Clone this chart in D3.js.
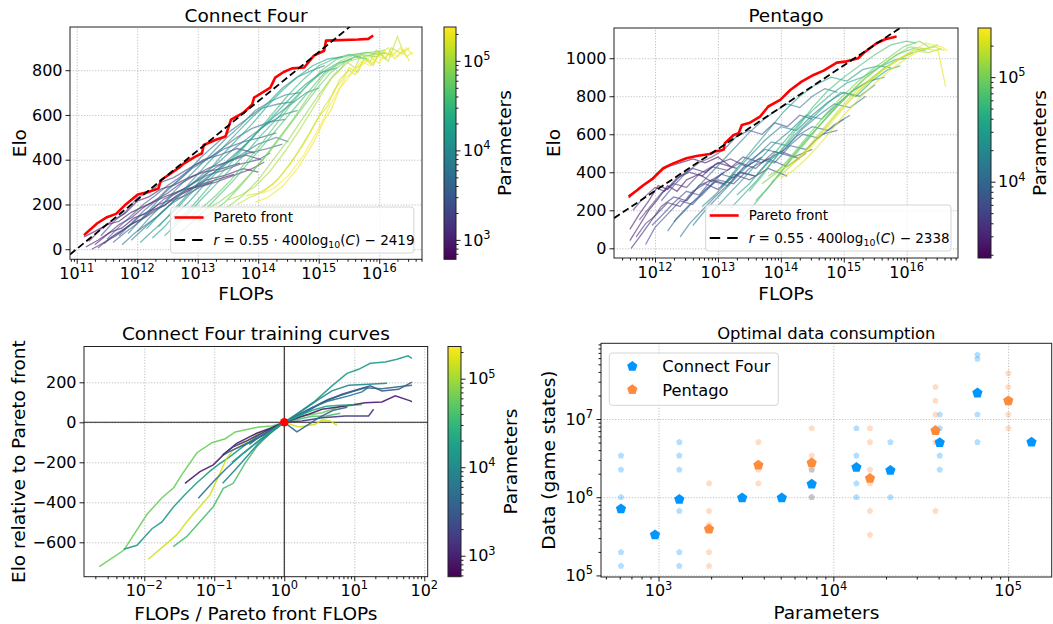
<!DOCTYPE html>
<html>
<head>
<meta charset="utf-8">
<script src="https://cdn.jsdelivr.net/npm/d3@7"></script>
<style>
body { margin: 0; background: #fff; }
svg { font-family: "DejaVu Sans", sans-serif; }
.grid line { stroke: #b0b0b0; stroke-width: 0.8; stroke-dasharray: 1.2,1.6; }
.grid path { display: none; }
</style>
</head>
<body>
<svg id="chart" width="1053" height="624"></svg>
<script>
/* ---------- Connect Four: Elo vs training FLOPs (x values are log10 FLOPs) ---------- */
var c4Params = [650, 720, 850, 1000, 1200, 1500, 1800, 2200, 2800, 3400, 4200, 5200, 6300, 7600, 9000,
    11000, 13500, 16500, 20000, 25000, 31000, 38000, 47000, 58000, 72000, 88000, 110000, 135000, 165000, 200000, 230000];
var c4Runs = [
    [[11.12,55],[11.3,80],[11.5,110],[11.7,125],[11.9,165],[12.1,190],[12.3,215],[12.5,240],[12.75,265],[13.0,280],[13.25,300]],
    [[11.15,10],[11.35,40],[11.55,75],[11.75,95],[11.95,140],[12.15,160],[12.35,200],[12.55,220],[12.8,255],[13.05,290],[13.3,310],[13.6,335]],
    [[11.2,35],[11.4,90],[11.6,130],[11.8,160],[12.0,215],[12.2,235],[12.4,270],[12.6,285],[12.85,320],[13.1,345],[13.4,360],[13.7,385]],
    [[11.25,0],[11.45,30],[11.65,60],[11.85,105],[12.05,130],[12.25,175],[12.45,195],[12.65,240],[12.9,275],[13.15,310],[13.45,330],[13.75,360],[14.0,345]],
    [[11.3,20],[11.5,65],[11.7,110],[11.9,140],[12.1,185],[12.3,220],[12.5,250],[12.7,290],[12.95,330],[13.2,365],[13.5,390],[13.8,420],[14.05,400]],
    [[11.35,5],[11.55,50],[11.75,80],[11.95,120],[12.15,145],[12.35,180],[12.55,215],[12.8,240],[13.05,280],[13.3,300],[13.6,330],[13.9,360],[14.1,390]],
    [[11.4,60],[11.6,120],[11.8,165],[12.0,230],[12.2,255],[12.4,300],[12.6,320],[12.85,360],[13.1,400],[13.35,420],[13.65,450],[13.95,430]],
    [[11.45,25],[11.65,70],[11.85,100],[12.05,150],[12.25,180],[12.45,225],[12.65,250],[12.9,290],[13.15,330],[13.4,350],[13.7,380],[14.0,400],[14.2,430]],
    [[11.5,45],[11.7,100],[11.9,150],[12.1,200],[12.3,240],[12.5,285],[12.7,320],[12.95,375],[13.2,410],[13.45,450],[13.75,480],[14.05,500],[14.3,520]],
    [[11.6,30],[11.8,75],[12.0,115],[12.2,160],[12.4,195],[12.6,245],[12.8,275],[13.05,320],[13.3,365],[13.55,400],[13.85,430],[14.15,450],[14.4,470]],
    [[11.7,60],[11.9,115],[12.1,170],[12.3,215],[12.5,270],[12.7,310],[12.9,360],[13.15,400],[13.4,450],[13.65,500],[13.9,540],[14.2,570],[14.45,580]],
    [[11.75,20],[11.95,70],[12.15,110],[12.35,150],[12.55,200],[12.75,235],[12.95,280],[13.2,330],[13.45,380],[13.7,420],[14.0,470],[14.3,500],[14.5,480]],
    [[11.85,70],[12.05,130],[12.25,190],[12.45,250],[12.65,300],[12.85,350],[13.05,410],[13.3,470],[13.55,530],[13.8,580],[14.05,630],[14.35,650],[14.6,660]],
    [[11.9,40],[12.1,90],[12.3,140],[12.5,190],[12.7,240],[12.9,290],[13.1,340],[13.35,390],[13.6,450],[13.85,500],[14.1,550],[14.4,600],[14.65,620]],
    [[12.0,80],[12.2,140],[12.4,195],[12.6,255],[12.8,310],[13.0,365],[13.2,420],[13.45,490],[13.7,550],[13.95,620],[14.2,660],[14.45,690],[14.7,700]],
    [[12.05,30],[12.25,80],[12.45,130],[12.65,180],[12.85,240],[13.05,290],[13.3,350],[13.55,410],[13.8,470],[14.05,540],[14.3,600],[14.55,650],[14.8,700],[15.0,720]],
    [[12.15,90],[12.35,150],[12.55,200],[12.75,260],[12.95,320],[13.15,380],[13.4,450],[13.65,520],[13.9,590],[14.15,650],[14.4,720],[14.65,770],[14.9,800],[15.1,820]],
    [[12.25,50],[12.45,100],[12.65,160],[12.85,210],[13.05,270],[13.3,340],[13.55,400],[13.8,470],[14.05,540],[14.3,610],[14.55,680],[14.8,740],[15.05,790],[15.3,810]],
    [[12.35,100],[12.55,160],[12.75,220],[12.95,280],[13.15,340],[13.4,420],[13.65,490],[13.9,560],[14.15,640],[14.4,710],[14.65,770],[14.9,820],[15.15,850],[15.4,860]],
    [[12.45,60],[12.65,110],[12.85,160],[13.05,220],[13.3,290],[13.55,360],[13.8,430],[14.05,510],[14.3,580],[14.55,660],[14.8,730],[15.05,790],[15.3,830],[15.55,850]],
    [[12.6,110],[12.8,160],[13.0,220],[13.25,300],[13.5,370],[13.75,450],[14.0,530],[14.25,610],[14.5,690],[14.75,760],[15.0,820],[15.25,850],[15.5,870],[15.7,860]],
    [[12.7,70],[12.9,120],[13.1,170],[13.35,240],[13.6,310],[13.85,390],[14.1,470],[14.35,550],[14.6,630],[14.85,710],[15.1,790],[15.35,830],[15.6,860],[15.8,850]],
    [[12.85,140],[13.05,180],[13.3,240],[13.55,310],[13.8,390],[14.05,470],[14.3,560],[14.55,650],[14.8,730],[15.05,800],[15.3,850],[15.55,870],[15.8,880],[16.0,870]],
    [[13.0,120],[13.2,160],[13.45,210],[13.7,280],[13.95,360],[14.2,440],[14.45,530],[14.7,620],[14.95,710],[15.2,790],[15.45,840],[15.7,870],[15.95,860],[16.1,880]],
    [[13.15,180],[13.35,210],[13.6,260],[13.85,330],[14.1,410],[14.35,500],[14.6,590],[14.85,690],[15.1,780],[15.35,840],[15.6,870],[15.85,880],[16.1,890]],
    [[13.3,150],[13.5,190],[13.75,240],[14.0,310],[14.25,400],[14.5,490],[14.75,590],[15.0,690],[15.25,780],[15.5,840],[15.75,860],[16.0,880],[16.2,870]],
    [[13.5,220],[13.7,240],[13.95,280],[14.2,350],[14.45,440],[14.7,540],[14.95,650],[15.2,760],[15.35,800],[15.45,840],[15.6,810],[15.7,870],[15.85,840],[15.95,890],[16.1,850],[16.2,900],[16.4,870]],
    [[13.65,200],[13.85,230],[14.1,260],[14.35,320],[14.6,410],[14.85,520],[15.1,640],[15.25,700],[15.35,760],[15.5,800],[15.6,780],[15.75,850],[15.9,820],[16.0,880],[16.15,840],[16.3,950],[16.4,880],[16.5,900]],
    [[13.8,240],[14.0,250],[14.25,290],[14.5,370],[14.75,470],[15.0,590],[15.15,640],[15.25,710],[15.4,760],[15.5,810],[15.65,790],[15.75,850],[15.9,830],[16.0,870],[16.15,900],[16.25,850],[16.4,890],[16.5,840]],
    [[13.95,210],[14.15,230],[14.4,280],[14.65,360],[14.9,470],[15.1,580],[15.2,620],[15.35,720],[15.5,770],[15.6,810],[15.75,830],[15.85,860],[16.0,830],[16.1,880],[16.2,860],[16.35,900],[16.45,860],[16.55,880]],
    [[14.05,250],[14.25,270],[14.5,330],[14.75,420],[15.0,540],[15.2,650],[15.3,700],[15.45,770],[15.6,800],[15.7,840],[15.85,820],[15.95,870],[16.05,850],[16.2,880],[16.3,860],[16.45,900],[16.55,870]]
];
var c4FrontFlops = [11.12,11.34,11.5,11.65,11.79,12.01,12.18,12.35,12.39,12.71,12.77,12.96,13.07,13.1,13.3,13.46,13.55,13.75,13.9,13.93,14.2,14.28,14.42,14.56,14.76,14.92,15.09,15.12,15.65,15.82,15.9];
var c4FrontElo   = [63,116,143,158,195,245,256,271,308,368,383,414,429,466,489,504,579,609,647,677,722,767,792,808,812,865,887,932,937,940,955];
var c4FitSlope = 0.55 * 400, c4FitIntercept = -2419;

/* ---------- Pentago ---------- */
var pgParams = [2000, 2300, 2600, 3000, 3400, 3900, 4500, 5200, 6000, 7000, 8200, 9500, 11000, 13000, 15500,
    18500, 22000, 27000, 33000, 40000, 50000, 62000, 78000, 95000, 120000, 150000, 190000, 240000, 280000];
var pgRuns = [
    [[11.58,265],[11.75,320],[11.9,350],[12.05,400],[12.2,430],[12.4,450],[12.6,470],[12.8,450],[13.0,480],[13.2,430]],
    [[11.6,40],[11.75,120],[11.9,200],[12.05,260],[12.2,330],[12.35,300],[12.5,360],[12.7,390],[12.9,350],[13.1,400]],
    [[11.6,100],[11.75,180],[11.9,250],[12.05,330],[12.2,310],[12.4,380],[12.6,420],[12.8,400],[13.0,450],[13.3,420]],
    [[11.62,0],[11.8,80],[11.95,150],[12.1,220],[12.3,270],[12.5,250],[12.7,330],[12.9,360],[13.1,340],[13.35,400],[13.6,380]],
    [[11.65,200],[11.8,260],[12.0,320],[12.15,300],[12.35,370],[12.55,400],[12.75,380],[12.95,440],[13.2,470],[13.45,430],[13.7,480]],
    [[11.7,60],[11.85,130],[12.0,170],[12.2,240],[12.4,220],[12.6,300],[12.8,340],[13.0,310],[13.25,390],[13.5,360],[13.8,420],[14.1,380]],
    [[11.75,150],[11.95,230],[12.1,290],[12.3,340],[12.5,320],[12.7,390],[12.9,430],[13.15,410],[13.4,480],[13.7,450],[14.0,510],[14.3,470]],
    [[11.85,20],[12.0,110],[12.2,180],[12.4,250],[12.6,230],[12.8,310],[13.0,360],[13.25,340],[13.5,420],[13.8,470],[14.1,430],[14.4,500]],
    [[11.95,120],[12.1,170],[12.3,240],[12.5,300],[12.7,280],[12.9,360],[13.1,400],[13.35,450],[13.6,420],[13.9,510],[14.2,480],[14.5,520]],
    [[12.1,250],[12.3,330],[12.5,400],[12.7,450],[12.9,480],[13.1,520],[13.3,590],[13.5,620],[13.7,600],[13.9,660],[14.1,640],[14.3,700],[14.5,680]],
    [[12.2,90],[12.35,160],[12.55,230],[12.75,280],[12.95,350],[13.15,330],[13.4,420],[13.65,470],[13.9,450],[14.15,540],[14.4,520],[14.65,600],[14.9,620]],
    [[12.3,140],[12.45,190],[12.65,260],[12.85,320],[13.05,390],[13.25,370],[13.5,460],[13.75,520],[14.0,500],[14.25,590],[14.5,640],[14.75,620],[15.0,680]],
    [[12.4,60],[12.55,130],[12.75,200],[12.95,270],[13.15,330],[13.35,400],[13.6,380],[13.85,470],[14.1,530],[14.35,600],[14.6,580],[14.85,650],[15.1,700]],
    [[12.5,250],[12.7,330],[12.9,400],[13.1,470],[13.3,540],[13.5,610],[13.7,670],[13.9,720],[14.1,760],[14.3,740],[14.5,800],[14.7,840],[14.9,820]],
    [[12.6,120],[12.8,200],[13.0,270],[13.2,340],[13.4,410],[13.6,480],[13.85,560],[14.1,540],[14.35,630],[14.6,700],[14.85,760],[15.1,740],[15.35,800]],
    [[12.75,220],[12.95,280],[13.15,350],[13.35,430],[13.55,500],[13.75,570],[14.0,640],[14.25,620],[14.5,700],[14.75,770],[15.0,820],[15.25,800],[15.5,860]],
    [[12.9,190],[13.1,260],[13.3,330],[13.5,400],[13.7,480],[13.9,550],[14.15,620],[14.4,700],[14.65,680],[14.9,760],[15.15,830],[15.4,880],[15.65,900]],
    [[13.05,320],[13.25,400],[13.45,480],[13.65,560],[13.85,640],[14.05,720],[14.3,800],[14.55,860],[14.8,900],[15.05,880],[15.3,940],[15.55,960],[15.75,950]],
    [[13.2,210],[13.4,280],[13.6,350],[13.8,430],[14.0,510],[14.2,590],[14.45,670],[14.7,750],[14.95,820],[15.2,800],[15.45,880],[15.7,940],[15.9,960]],
    [[13.3,280],[13.5,340],[13.7,420],[13.9,500],[14.1,580],[14.3,660],[14.55,740],[14.8,810],[15.05,870],[15.3,900],[15.55,950],[15.8,990],[16.0,1000]],
    [[13.4,160],[13.6,240],[13.8,320],[14.0,400],[14.2,490],[14.4,570],[14.65,660],[14.9,750],[15.15,830],[15.4,880],[15.65,950],[15.9,1000],[16.1,1030]],
    [[13.5,300],[13.7,380],[13.9,470],[14.1,560],[14.3,650],[14.5,740],[14.75,830],[15.0,900],[15.25,960],[15.5,1020],[15.75,1070],[16.0,1090],[16.15,1080]],
    [[13.6,250],[13.8,320],[14.0,400],[14.2,480],[14.4,560],[14.6,640],[14.85,730],[15.1,820],[15.35,900],[15.6,960],[15.85,1020],[16.1,1050],[16.3,1040]],
    [[13.7,340],[13.9,390],[14.1,460],[14.3,540],[14.5,620],[14.7,700],[14.95,790],[15.2,870],[15.45,940],[15.7,1000],[15.95,1060],[16.2,1090],[16.35,1060]],
    [[13.8,380],[14.0,420],[14.2,490],[14.4,560],[14.6,640],[14.8,720],[15.05,800],[15.3,880],[15.55,950],[15.8,1010],[16.05,1060],[16.3,1050],[16.5,1070]],
    [[13.85,350],[14.05,400],[14.25,460],[14.45,530],[14.65,610],[14.85,690],[15.1,780],[15.35,860],[15.6,930],[15.85,990],[16.1,1040],[16.35,1030],[16.55,1050]],
    [[13.95,400],[14.15,440],[14.35,500],[14.55,580],[14.75,660],[14.95,740],[15.2,830],[15.45,900],[15.7,960],[15.95,1010],[16.2,1040],[16.45,1060],[16.6,1040]],
    [[14.0,370],[14.2,410],[14.4,470],[14.6,540],[14.8,620],[15.0,700],[15.25,790],[15.5,870],[15.75,940],[16.0,1000],[16.25,1050],[16.5,1040],[16.62,850]],
    [[14.05,420],[14.25,460],[14.45,520],[14.65,600],[14.85,680],[15.05,760],[15.3,850],[15.55,920],[15.8,980],[16.05,1030],[16.3,1080],[16.55,1060],[16.65,1040]]
];
var pgFrontFlops = [11.58,11.71,11.82,11.97,12.13,12.29,12.5,12.66,12.87,12.95,13.09,13.11,13.25,13.33,13.38,13.51,13.67,13.8,13.99,14.15,14.33,14.52,14.68,14.89,15.02,15.23,15.31,15.52,15.66,15.84];
var pgFrontElo   = [272,304,333,368,421,447,474,486,496,509,518,553,596,605,649,661,693,746,781,833,877,912,935,977,982,1000,1026,1079,1100,1114];
var pgFitSlope = 0.55 * 400, pgFitIntercept = -2338;

/* ---------- Connect Four training curves relative to the Pareto point (x = log10 ratio) ---------- */
var tcParams = [60000, 15000, 150000, 40000, 900, 5000, 9000, 3000, 1500, 6000, 4000, 20000];
var tcCurves = [
    [[-2.643,-722],[-2.294,-640],[-1.96,-460],[-1.747,-377],[-1.58,-327],[-1.461,-260],[-1.247,-152],[-1.033,-102],[-0.843,-82],[-0.7,-48],[-0.366,-23],[-0.176,-18],[0,0],[0.253,32],[0.539,48],[0.824,82],[1.11,88]],
    [[-2.294,-635],[-2.104,-615],[-1.89,-532],[-1.747,-498],[-1.58,-422],[-1.414,-360],[-1.247,-302],[-1.057,-243],[-0.937,-210],[-0.794,-177],[-0.586,-120],[-0.347,-60],[-0.15,-25],[0,0],[0.205,48],[0.443,107],[0.681,182],[0.896,245],[1.062,265],[1.229,295],[1.443,302],[1.61,315],[1.767,332],[1.824,320]],
    [[-1.943,-685],[-1.537,-563],[-1.371,-488],[-1.061,-363],[-0.919,-255],[-0.823,-180],[-0.729,-138],[-0.561,-105],[-0.371,-55],[-0.204,-50],[0,0],[0.205,-23],[0.443,-10],[0.539,12],[0.657,7],[0.752,-15]],
    [[-1.586,-622],[-1.395,-572],[-1.204,-497],[-1.014,-422],[-0.871,-330],[-0.729,-305],[-0.561,-205],[-0.394,-122],[-0.204,-55],[0,0],[0.2,15],[0.4,30],[0.6,32],[0.8,45]],
    [[-1.419,-305],[-1.204,-247],[-1.014,-213],[-0.871,-163],[-0.68,-105],[-0.394,-55],[-0.2,-30],[0,0],[0.348,40],[0.539,65],[0.871,82],[1.157,98],[1.395,102],[1.586,132],[1.8,107],[1.824,103]],
    [[-1.229,-380],[-1.014,-297],[-0.823,-230],[-0.586,-155],[-0.347,-88],[-0.15,-35],[0,0],[0.348,65],[0.634,115],[0.92,148],[1.157,173],[1.395,168],[1.634,178],[1.824,185]],
    [[-0.88,-305],[-0.704,-238],[-0.537,-172],[-0.347,-97],[-0.15,-40],[0,0],[0.253,57],[0.491,115],[0.681,157],[0.92,185],[1.205,190],[1.467,195]],
    [[-0.89,-168],[-0.794,-148],[-0.509,-102],[-0.223,-52],[0,0],[0.3,48],[0.539,98],[0.824,140],[1.062,165],[1.229,182],[1.395,157],[1.634,165],[1.824,201]],
    [[-0.88,-163],[-0.729,-122],[-0.55,-95],[-0.3,-50],[0,0],[0.253,7],[0.539,23],[0.871,32],[1.205,32],[1.276,65]],
    [[-0.6,-120],[-0.4,-80],[-0.2,-40],[0,0],[0.395,73],[0.634,107],[0.92,132],[1.11,152],[1.2,175]],
    [[-0.5,-110],[-0.3,-60],[0,0],[0.181,-48],[0.348,-10],[0.5,25],[0.7,60],[0.9,75]],
    [[-0.75,-200],[-0.5,-130],[-0.25,-60],[0,0],[0.2,30],[0.4,60],[0.6,80],[0.8,85],[1.0,88]]
];

/* ---------- Optimal data consumption ---------- */
var c4OptParams = [610, 955, 1315, 3010, 5070, 7520, 13550, 21200, 40600, 66700, 136000];
var c4OptData   = [7.1e5, 3.3e5, 9.4e5, 9.8e5, 9.8e5, 1.47e6, 2.4e6, 2.2e6, 5.0e6, 2.15e7, 5.05e6];
var c4SampleParams = [610, 610, 610, 610, 610, 1315, 1315, 1315, 1315, 1315, 1315, 7520, 7520,
    13550, 13550, 13550, 13550, 21200, 21200, 40600, 40600, 40600, 40600, 66700, 66700, 66700, 66700];
var c4SampleData = [3.4e6, 2.25e6, 1e6, 1.98e5, 1.32e5, 5.06e6, 3.4e6, 2.25e6, 6.67e5, 1.98e5, 1.32e5, 2.25e6, 1e6,
    7.6e6, 3.4e6, 1.5e6, 1e6, 5.06e6, 1e6, 1.14e7, 7.6e6, 3.4e6, 2.25e6, 6.6e7, 5.85e7, 1.14e7, 5.06e6];
var pgOptParams = [1945, 3725, 7520, 16200, 38400, 100200];
var pgOptData   = [3.9e5, 2.57e6, 2.75e6, 1.74e6, 7.1e6, 1.71e7];
var pgSampleParams = [1945, 1945, 1945, 1945, 1945, 3725, 3725, 3725, 7520, 7520, 7520, 7520,
    16200, 16200, 16200, 16200, 16200, 16200, 38400, 38400, 38400, 38400, 38400, 38400, 100200, 100200, 100200, 100200];
var pgSampleData = [1.5e6, 6.67e5, 4.44e5, 1.98e5, 1.32e5, 5.06e6, 2.25e6, 1.5e6, 7.6e6, 3.4e6, 2.25e6, 1e6,
    7.6e6, 5.06e6, 2.25e6, 1.5e6, 6.67e5, 3.3e5, 2.56e7, 1.71e7, 1.14e7, 7.6e6, 5.06e6, 6.67e5, 3.84e7, 2.56e7, 1.14e7, 7.6e6];

var C4_BLUE = "#0096ff", PG_ORANGE = "#ff8b3d";
var TICK_SIZE = 16, LABEL_SIZE = 18.5;
var svg = d3.select("#chart");
var defs = svg.append("defs");

/* ---------- helpers ---------- */
function supText(g, x, y, anchor, base, exp) {
    var t = g.append("text").attr("x", x).attr("y", y).attr("text-anchor", anchor).attr("font-size", TICK_SIZE);
    t.append("tspan").text(base);
    t.append("tspan").attr("dy", -6.8).attr("font-size", 11.4).text(exp);
    return t;
}
function expLabel(v) { return String(Math.round(Math.log10(v))).replace("-", "\u2212"); }
function decades(dom) {
    var out = [];
    for (var k = Math.ceil(Math.log10(dom[0]) - 1e-9); k <= Math.floor(Math.log10(dom[1]) + 1e-9); k++) out.push(Math.pow(10, k));
    return out;
}
function minorTicks(dom) {
    var out = [];
    for (var k = Math.floor(Math.log10(dom[0])); k <= Math.ceil(Math.log10(dom[1])); k++)
        for (var d = 2; d < 10; d++) {
            var v = d * Math.pow(10, k);
            if (v >= dom[0] && v <= dom[1]) out.push(v);
        }
    return out;
}
function styleAxis(sel) {
    sel.attr("font-family", null).attr("font-size", TICK_SIZE);
    sel.select(".domain").remove();
    sel.selectAll("line").attr("stroke", "#000").attr("stroke-width", 0.9);
    sel.selectAll("text").attr("fill", "#000");
}
function pentagon(r) {
    var pts = d3.range(5).map(function(i){
        var a = -Math.PI / 2 + i * 2 * Math.PI / 5;
        return [r * Math.cos(a), r * Math.sin(a)];
    });
    return "M" + pts.join("L") + "Z";
}
function grid(g, x, y, w, h, xv, yv) {
    g.append("g").attr("class", "grid").attr("transform", "translate(0," + h + ")")
        .call(d3.axisBottom(x).tickValues(xv).tickSize(-h).tickFormat(""));
    g.append("g").attr("class", "grid")
        .call(d3.axisLeft(y).tickValues(yv).tickSize(-w).tickFormat(""));
}
function logBottom(g, x, h) {
    var major = decades(x.domain());
    g.append("g").attr("transform", "translate(0," + h + ")")
        .call(d3.axisBottom(x).tickValues(minorTicks(x.domain())).tickSize(2.5).tickFormat("")).call(styleAxis);
    g.append("g").attr("transform", "translate(0," + h + ")")
        .call(d3.axisBottom(x).tickValues(major).tickSize(4.5).tickFormat("")).call(styleAxis);
    major.forEach(function(v){ supText(g, x(v), h + 19.5, "middle", "10", expLabel(v)); });
}
function linLeft(g, y, ticks) {
    g.append("g").call(d3.axisLeft(y).tickValues(ticks).tickSize(4.5).tickPadding(3).tickFormat(d3.format("d")))
        .call(styleAxis);
}
function frame(g, w, h) {
    g.append("rect").attr("width", w).attr("height", h).attr("fill", "none")
        .attr("stroke", "#222").attr("stroke-width", 1);
}
function clip(id, w, h) {
    defs.append("clipPath").attr("id", id).append("rect").attr("width", w).attr("height", h);
    return "url(#" + id + ")";
}
function label(x, y, text, size, rotate) {
    svg.append("text").attr("transform", "translate(" + x + "," + y + ")" + (rotate ? " rotate(-90)" : ""))
        .attr("text-anchor", "middle").attr("font-size", size).attr("fill", "#000").text(text);
}

/* Vertical log colorbar with viridis */
function colorbar(id, box, dom, labelX) {
    var w = box[2] - box[0], h = box[3] - box[1];
    var grad = defs.append("linearGradient").attr("id", id).attr("x1", 0).attr("y1", 1).attr("x2", 0).attr("y2", 0);
    d3.range(0, 1.0001, 0.05).forEach(function(t){
        grad.append("stop").attr("offset", t).attr("stop-color", d3.interpolateViridis(t));
    });
    var g = svg.append("g").attr("transform", "translate(" + box[0] + "," + box[1] + ")");
    g.append("rect").attr("width", w).attr("height", h).attr("fill", "url(#" + id + ")");
    var s = d3.scaleLog().domain(dom).range([h, 0]);
    g.append("g").attr("transform", "translate(" + w + ",0)")
        .call(d3.axisRight(s).tickValues(minorTicks(dom)).tickSize(2.5).tickFormat("")).call(styleAxis);
    g.append("g").attr("transform", "translate(" + w + ",0)")
        .call(d3.axisRight(s).tickValues(decades(dom)).tickSize(4.5).tickFormat("")).call(styleAxis);
    decades(dom).forEach(function(v){ supText(g, w + 7, s(v) + 5.7, "start", "10", expLabel(v)); });
    frame(g, w, h);
    label(labelX, box[1] + h / 2, "Parameters", LABEL_SIZE, true);
}

/* ---------- Elo vs FLOPs panel ---------- */
function eloPanel(o) {
    var w = o.box[2] - o.box[0], h = o.box[3] - o.box[1];
    var g = svg.append("g").attr("transform", "translate(" + o.box[0] + "," + o.box[1] + ")");
    var x = d3.scaleLog().domain(o.xDomain).range([0, w]);
    var y = d3.scaleLinear().domain(o.yDomain).range([h, 0]);
    var color = d3.scaleSequentialLog(d3.interpolateViridis).domain(o.cDomain);
    grid(g, x, y, w, h, decades(o.xDomain), o.yTicks);

    var plot = g.append("g").attr("clip-path", clip(o.id + "clip", w, h));
    var line = d3.line()
        .x(function(d){ return x(Math.pow(10, d[0])); })
        .y(function(d){ return y(d[1]); });
    plot.selectAll(".run").data(o.runs).enter().append("path")
        .attr("class", "run").attr("d", line).attr("fill", "none")
        .attr("stroke", function(d, i){ return color(o.params[i]); })
        .attr("stroke-width", 1.3).attr("stroke-opacity", 0.6);
    plot.append("path").datum(d3.zip(o.frontX, o.frontY)).attr("d", line)
        .attr("fill", "none").attr("stroke", "#ff0000").attr("stroke-width", 2.6).attr("stroke-linejoin", "round");
    var lx = [Math.log10(o.xDomain[0]), Math.log10(o.xDomain[1])];
    plot.append("path").datum(lx.map(function(v){ return [v, o.slope * v + o.icpt]; })).attr("d", line)
        .attr("fill", "none").attr("stroke", "#000").attr("stroke-width", 1.8).attr("stroke-dasharray", "7,3.5");

    frame(g, w, h);
    logBottom(g, x, h);
    linLeft(g, y, o.yTicks);

    /* legend */
    var L = o.legend;
    var lg = g.append("g").attr("transform", "translate(" + L[0] + "," + L[1] + ")").attr("font-size", 13.5);
    lg.append("rect").attr("width", L[2]).attr("height", 46).attr("rx", 3)
        .attr("fill", "#fff").attr("fill-opacity", 0.8).attr("stroke", "#d5d5d5");
    lg.append("line").attr("x1", 4).attr("x2", 33).attr("y1", 10.5).attr("y2", 10.5)
        .attr("stroke", "#ff0000").attr("stroke-width", 2.6);
    lg.append("text").attr("x", 43).attr("y", 15.3).text("Pareto front");
    lg.append("line").attr("x1", 4).attr("x2", 33).attr("y1", 33).attr("y2", 33)
        .attr("stroke", "#000").attr("stroke-width", 1.8).attr("stroke-dasharray", "10.5,7");
    var t = lg.append("text").attr("x", 43).attr("y", 37.8);
    t.append("tspan").attr("font-style", "italic").text("r");
    t.append("tspan").text(" = 0.55 \u00b7 400log");
    t.append("tspan").attr("font-size", 9.4).attr("dy", 3).text("10");
    t.append("tspan").attr("dy", -3).text("(");
    t.append("tspan").attr("font-style", "italic").text("C");
    t.append("tspan").text(") \u2212 " + (-o.icpt));

    label(o.box[0] + w / 2, 22, o.title, LABEL_SIZE);
    label(o.box[0] + w / 2, 300, "FLOPs", LABEL_SIZE);
    label(o.yLabelX, o.box[1] + h / 2, "Elo", LABEL_SIZE, true);
    colorbar(o.id + "grad", o.cbar, o.cDomain, o.cLabelX);
}

eloPanel({
    id: "c4", box: [70, 27, 422, 259.3], xDomain: [Math.pow(10, 10.889), Math.pow(10, 16.707)], yDomain: [-45, 993],
    yTicks: [0, 200, 400, 600, 800], params: c4Params, runs: c4Runs, frontX: c4FrontFlops, frontY: c4FrontElo,
    slope: c4FitSlope, icpt: c4FitIntercept, cDomain: [607, 239000], cbar: [444, 27, 456, 259.3], cLabelX: 510.5,
    legend: [100.6, 180, 243.3], title: "Connect Four", yLabelX: 26.4
});
eloPanel({
    id: "pg", box: [614, 28, 958, 258], xDomain: [Math.pow(10, 11.348), Math.pow(10, 16.816)], yDomain: [-51, 1159],
    yTicks: [0, 200, 400, 600, 800, 1000], params: pgParams, runs: pgRuns, frontX: pgFrontFlops, frontY: pgFrontElo,
    slope: pgFitSlope, icpt: pgFitIntercept, cDomain: [1862, 295000], cbar: [978, 28, 991, 258], cLabelX: 1046,
    legend: [91.7, 177, 245.3], title: "Pentago", yLabelX: 560
});

/* ---------- Training curves panel ---------- */
(function(){
    var box = [84, 346.5, 427.7, 576.7], w = box[2] - box[0], h = box[3] - box[1];
    var g = svg.append("g").attr("transform", "translate(" + box[0] + "," + box[1] + ")");
    var x = d3.scaleLog().domain([Math.pow(10, -2.861), Math.pow(10, 2.049)]).range([0, w]);
    var y = d3.scaleLinear().domain([-772, 379]).range([h, 0]);
    var color = d3.scaleSequentialLog(d3.interpolateViridis).domain([580, 231000]);
    var yTicks = [-600, -400, -200, 0, 200];
    grid(g, x, y, w, h, decades(x.domain()), yTicks);
    var plot = g.append("g").attr("clip-path", clip("tcclip", w, h));
    plot.append("line").attr("x1", 0).attr("x2", w).attr("y1", y(0)).attr("y2", y(0)).attr("stroke", "#222").attr("stroke-width", 1.1);
    plot.append("line").attr("x1", x(1)).attr("x2", x(1)).attr("y1", 0).attr("y2", h).attr("stroke", "#222").attr("stroke-width", 1.1);
    var line = d3.line()
        .x(function(d){ return x(Math.pow(10, d[0])); })
        .y(function(d){ return y(d[1]); });
    plot.selectAll(".tc").data(tcCurves).enter().append("path")
        .attr("class", "tc").attr("d", line).attr("fill", "none")
        .attr("stroke", function(d, i){ return color(tcParams[i]); })
        .attr("stroke-width", 1.5).attr("stroke-opacity", 0.9);
    plot.append("circle").attr("cx", x(1)).attr("cy", y(0)).attr("r", 4.3).attr("fill", "#ff0000");
    frame(g, w, h);
    logBottom(g, x, h);
    linLeft(g, y, yTicks);
    label(box[0] + w / 2, 340, "Connect Four training curves", LABEL_SIZE);
    label(box[0] + w / 2, 620, "FLOPs / Pareto front FLOPs", LABEL_SIZE);
    label(25.4, box[1] + h / 2, "Elo relative to Pareto front", LABEL_SIZE, true);
    colorbar("tcgrad", [448, 346.5, 461, 576.7], [580, 231000], 517);
})();

/* ---------- Optimal data consumption panel ---------- */
(function(){
    var box = [601, 343.3, 1051.7, 577], w = box[2] - box[0], h = box[3] - box[1];
    var g = svg.append("g").attr("transform", "translate(" + box[0] + "," + box[1] + ")");
    var x = d3.scaleLog().domain([Math.pow(10, 2.671), Math.pow(10, 5.249)]).range([0, w]);
    var y = d3.scaleLog().domain([Math.pow(10, 4.98), Math.pow(10, 7.968)]).range([h, 0]);
    grid(g, x, y, w, h, decades(x.domain()), decades(y.domain()));
    var plot = g.append("g").attr("clip-path", clip("odclip", w, h));
    function dots(px, py, fill, r, alpha) {
        plot.append("g").selectAll("path").data(d3.zip(px, py)).enter().append("path")
            .attr("transform", function(d){ return "translate(" + x(d[0]) + "," + y(d[1]) + ")"; })
            .attr("d", pentagon(r)).attr("fill", fill).attr("fill-opacity", alpha);
    }
    dots(c4SampleParams, c4SampleData, C4_BLUE, 3.4, 0.3);
    dots(pgSampleParams, pgSampleData, PG_ORANGE, 3.4, 0.3);
    dots(c4OptParams, c4OptData, C4_BLUE, 5.4, 1);
    dots(pgOptParams, pgOptData, PG_ORANGE, 5.4, 1);
    frame(g, w, h);
    logBottom(g, x, h);
    var ymaj = decades(y.domain());
    g.append("g").call(d3.axisLeft(y).tickValues(minorTicks(y.domain())).tickSize(2.5).tickFormat("")).call(styleAxis);
    g.append("g").call(d3.axisLeft(y).tickValues(ymaj).tickSize(4.5).tickFormat("")).call(styleAxis);
    ymaj.forEach(function(v){ supText(g, -8, y(v) + 5.7, "end", "10", expLabel(v)); });

    var lg = g.append("g").attr("transform", "translate(8.3,9.7)").attr("font-size", 16.3);
    lg.append("rect").attr("width", 169).attr("height", 52.3).attr("rx", 3)
        .attr("fill", "#fff").attr("fill-opacity", 0.8).attr("stroke", "#d5d5d5");
    [["Connect Four", C4_BLUE], ["Pentago", PG_ORANGE]].forEach(function(d, i){
        lg.append("path").attr("transform", "translate(23," + (13.3 + i * 23.4) + ")").attr("d", pentagon(5.4)).attr("fill", d[1]);
        lg.append("text").attr("x", 53).attr("y", 19.1 + i * 23.4).text(d[0]);
    });

    label(box[0] + w / 2, 338.5, "Optimal data consumption", 16.4);
    label(box[0] + w / 2, 619, "Parameters", LABEL_SIZE);
    label(555, box[1] + h / 2, "Data (game states)", LABEL_SIZE, true);
})();
</script>
</body>
</html>
